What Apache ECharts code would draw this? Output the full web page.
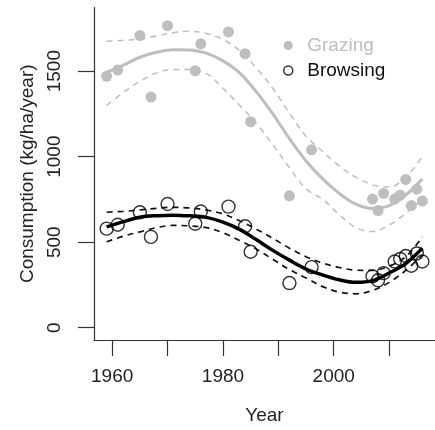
<!DOCTYPE html>
<html>
<head>
<meta charset="utf-8">
<script src="https://cdn.jsdelivr.net/npm/echarts@6/dist/echarts.min.js"></script>
<style>
html,body{margin:0;padding:0;background:#fff;}
#chart{width:435px;height:430px;}
</style>
</head>
<body>
<div id="chart"></div>
<script>
// Observed data
var obsYears = [1959,1961,1965,1967,1970,1975,1976,1981,1984,1985,1992,1996,2007,2008,2009,2011,2012,2013,2014,2015,2016];
var grazing  = [1470,1506,1708,1348,1766,1502,1660,1729,1602,1204,771,1040,752,685,785,752,775,867,714,810,741];
var browsing = [579,602,675,531,723,608,679,708,593,444,261,354,300,277,319,387,402,419,362,434,387];

// Fitted curves
var fitYears   = [1959,1962,1965,1968,1971,1974,1977,1980,1983,1986,1989,1992,1995,1998,2001,2004,2007,2010,2013,2016];
var grazeFit   = [1494,1535,1581,1610,1625,1624,1605,1560,1490,1380,1250,1105,975,870,785,722,697,714,775,870];
var grazeUpper = [1675,1680,1688,1705,1725,1733,1720,1685,1620,1520,1400,1255,1120,1030,945,880,835,822,880,1000];
var grazeLower = [1300,1375,1440,1490,1510,1510,1487,1400,1300,1195,1070,935,812,750,660,585,562,600,668,755];
var browseFit   = [589,620,646,655,658,654,645,617,575,515,452,395,343,308,280,265,275,320,375,465];
var browseUpper = [675,680,688,698,704,700,688,665,625,577,522,465,415,378,352,336,335,360,415,530];
var browseLower = [502,535,560,585,598,595,585,555,510,460,400,340,290,240,208,198,218,265,335,425];

// Axis ticks
var xTicks = [1960,1970,1980,1990,2000,2010];
var xLabels = [1960,1980,2000];
var yTicks = [0,500,1000,1500];

function pairs(xs, ys){ return xs.map(function(x,i){ return [x, ys[i]]; }); }

var GRAY = '#bebebe';
var FONT = "'Liberation Sans', Arial, sans-serif";
var AXIS = '#333';

function lineSeries(name, ys, color, width, dashed, z){
  return {
    name: name, type: 'line', data: pairs(fitYears, ys), smooth: 0.35,
    showSymbol: false, symbol: 'none', silent: true, z: z,
    lineStyle: { color: color, width: width, type: dashed ? [6,5] : 'solid' }
  };
}

var chart = echarts.init(document.getElementById('chart'), null, {renderer:'canvas'});
chart.setOption({
  animation: false,
  backgroundColor: '#fff',
  textStyle: { fontFamily: FONT },
  grid: { left: 94, top: 7.5, width: 343, height: 337, containLabel: false },
  legend: {
    orient: 'vertical', left: 278, top: 31, itemWidth: 28, itemHeight: 9, itemGap: 6,
    selectedMode: false,
    textStyle: { fontFamily: FONT, fontSize: 19 },
    data: [
      { name: 'Grazing', icon: 'circle', itemStyle: { color: GRAY, borderWidth: 0 }, textStyle: { color: GRAY } },
      { name: 'Browsing', icon: 'circle', itemStyle: { color: 'rgba(0,0,0,0)', borderColor: '#000', borderWidth: 1.5 }, textStyle: { color: '#111' } }
    ]
  },
  xAxis: {
    type: 'value', min: 1956.72, max: 2018.28,
    name: 'Year', nameLocation: 'middle', nameGap: 66,
    nameTextStyle: { fontFamily: FONT, fontSize: 19, color: '#222' },
    axisLine: { show: true, onZero: false, lineStyle: { color: AXIS, width: 1.2 } },
    axisTick: { show: true, length: 16, customValues: xTicks, lineStyle: { color: AXIS, width: 1.2 } },
    axisLabel: { customValues: xLabels, margin: 27, fontSize: 19, color: '#222', fontFamily: FONT,
                 formatter: function(v){ return String(v); } },
    splitLine: { show: false }
  },
  yAxis: {
    type: 'value', min: -72, max: 1872,
    name: 'Consumption (kg/ha/year)', nameLocation: 'middle', nameGap: 52,
    nameTextStyle: { fontFamily: FONT, fontSize: 19, color: '#222' },
    axisLine: { show: true, onZero: false, lineStyle: { color: AXIS, width: 1.2 } },
    axisTick: { show: true, length: 16, customValues: yTicks, lineStyle: { color: AXIS, width: 1.2 } },
    axisLabel: { customValues: yTicks, rotate: 90, margin: 30, fontSize: 19, color: '#222', fontFamily: FONT,
                 formatter: function(v){ return String(v); } },
    splitLine: { show: false }
  },
  series: [
    lineSeries('gU', grazeUpper, GRAY, 1.5, true, 2),
    lineSeries('gL', grazeLower, GRAY, 1.5, true, 2),
    { name: 'Grazing', type: 'scatter', data: pairs(obsYears, grazing), symbol: 'circle', symbolSize: 11, z: 3,
      itemStyle: { color: GRAY, opacity: 1 } },
    lineSeries('gF', grazeFit, GRAY, 3, false, 4),
    lineSeries('bU', browseUpper, '#111', 1.7, true, 5),
    lineSeries('bL', browseLower, '#111', 1.7, true, 5),
    lineSeries('bF', browseFit, '#000', 3.5, false, 6),
    { name: 'Browsing', type: 'scatter', data: pairs(obsYears, browsing), symbol: 'circle', symbolSize: 13, z: 7,
      itemStyle: { color: 'rgba(0,0,0,0)', borderColor: '#000', borderWidth: 1.4 } }
  ]
});
</script>
</body>
</html>
